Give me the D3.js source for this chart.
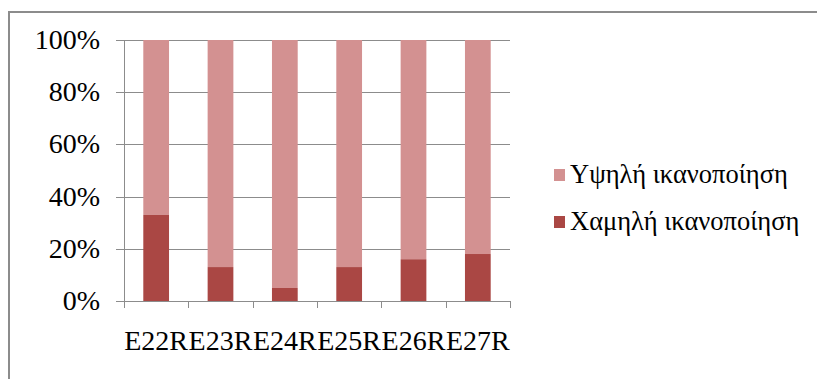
<!DOCTYPE html>
<html>
<head>
<meta charset="utf-8">
<script src="https://cdn.jsdelivr.net/npm/d3@7/dist/d3.min.js"></script>
<style>
  body { margin: 0; background: #fff; }
  svg { display: block; }
</style>
</head>
<body>
<svg id="canvas" width="817" height="379"></svg>
<script>
// chart data
const categories = ['E22R', 'E23R', 'E24R', 'E25R', 'E26R', 'E27R']
const lowValues = [33, 13, 5, 13, 16, 18]        // Χαμηλή ικανοποίηση (%)
const highValues = [67, 87, 95, 87, 84, 82]      // Υψηλή ικανοποίηση (%)
const seriesNames = ['Χαμηλή ικανοποίηση', 'Υψηλή ικανοποίηση']
const yTicks = [0, 20, 40, 60, 80, 100]

const colors = { low: '#AA4744', high: '#D39191' }
const font = "'Liberation Serif'"

const svg = d3.select('#canvas')

// outer chart frame (right/bottom edges are off the picture)
svg.append('path')
    .attr('d', 'M9,380 L9,12 L818,12')
    .attr('fill', 'none')
    .attr('stroke', '#8c8c8c')
    .attr('stroke-width', 2)

const plot = { left: 124, right: 510, top: 40, bottom: 301 }

const x = d3.scaleBand()
    .domain(categories)
    .range([plot.left, plot.right])
    .paddingInner(0)
    .paddingOuter(0)

const y = d3.scaleLinear()
    .domain([0, 100])
    .range([plot.bottom, plot.top])

// gridlines
svg.append('g')
    .selectAll('line')
    .data(yTicks)
    .enter()
    .append('line')
    .attr('x1', plot.left - 8)
    .attr('x2', plot.right)
    .attr('y1', d => Math.round(y(d)) + 0.5)
    .attr('y2', d => Math.round(y(d)) + 0.5)
    .attr('stroke', '#8c8c8c')
    .attr('stroke-width', 1)

// y axis line
svg.append('line')
    .attr('x1', plot.left + 0.5).attr('x2', plot.left + 0.5)
    .attr('y1', plot.top).attr('y2', plot.bottom + 7)
    .attr('stroke', '#8c8c8c')

// x ticks at category boundaries
const boundaries = categories.map(c => x(c)).concat([plot.right])
svg.append('g')
    .selectAll('line')
    .data(boundaries)
    .enter()
    .append('line')
    .attr('x1', d => Math.round(d) + 0.5)
    .attr('x2', d => Math.round(d) + 0.5)
    .attr('y1', plot.bottom)
    .attr('y2', plot.bottom + 7)
    .attr('stroke', '#8c8c8c')

// stacked bars
const barW = x.bandwidth() * 0.4
const rows = categories.map((c, i) => ({ cat: c, low: lowValues[i], high: highValues[i] }))

const bars = svg.append('g')
bars.selectAll('rect.high')
    .data(rows)
    .enter()
    .append('rect')
    .attr('class', 'high')
    .attr('x', d => x(d.cat) + (x.bandwidth() - barW) / 2)
    .attr('width', barW)
    .attr('y', d => y(d.low + d.high))
    .attr('height', d => y(d.low) - y(d.low + d.high))
    .attr('fill', colors.high)

bars.selectAll('rect.low')
    .data(rows)
    .enter()
    .append('rect')
    .attr('class', 'low')
    .attr('x', d => x(d.cat) + (x.bandwidth() - barW) / 2)
    .attr('width', barW)
    .attr('y', d => y(d.low))
    .attr('height', d => y(0) - y(d.low))
    .attr('fill', colors.low)

// y labels
svg.append('g')
    .selectAll('text')
    .data(yTicks)
    .enter()
    .append('text')
    .attr('x', 100)
    .attr('y', d => y(d) + 9)
    .attr('text-anchor', 'end')
    .style('font-family', font)
    .style('font-size', '28px')
    .attr('fill', '#000')
    .text(d => d + '%')

// x labels
svg.append('g')
    .selectAll('text')
    .data(categories)
    .enter()
    .append('text')
    .attr('x', d => x(d) + x.bandwidth() / 2)
    .attr('y', 350)
    .attr('text-anchor', 'middle')
    .style('font-family', font)
    .style('font-size', '28px')
    .attr('fill', '#000')
    .text(d => d)

// legend (high on top, low below)
const legendItems = [
    { name: seriesNames[1], color: colors.high },
    { name: seriesNames[0], color: colors.low }
]
const legend = svg.append('g')
    .selectAll('g')
    .data(legendItems)
    .enter()
    .append('g')
    .attr('transform', (d, i) => `translate(554, ${169 + i * 47})`)

legend.append('rect')
    .attr('width', 11)
    .attr('height', 12)
    .attr('fill', d => d.color)

legend.append('text')
    .attr('x', 16)
    .attr('y', 14)
    .style('font-family', font)
    .style('font-size', '26.5px')
    .attr('fill', '#000')
    .text(d => d.name)
</script>
</body>
</html>
